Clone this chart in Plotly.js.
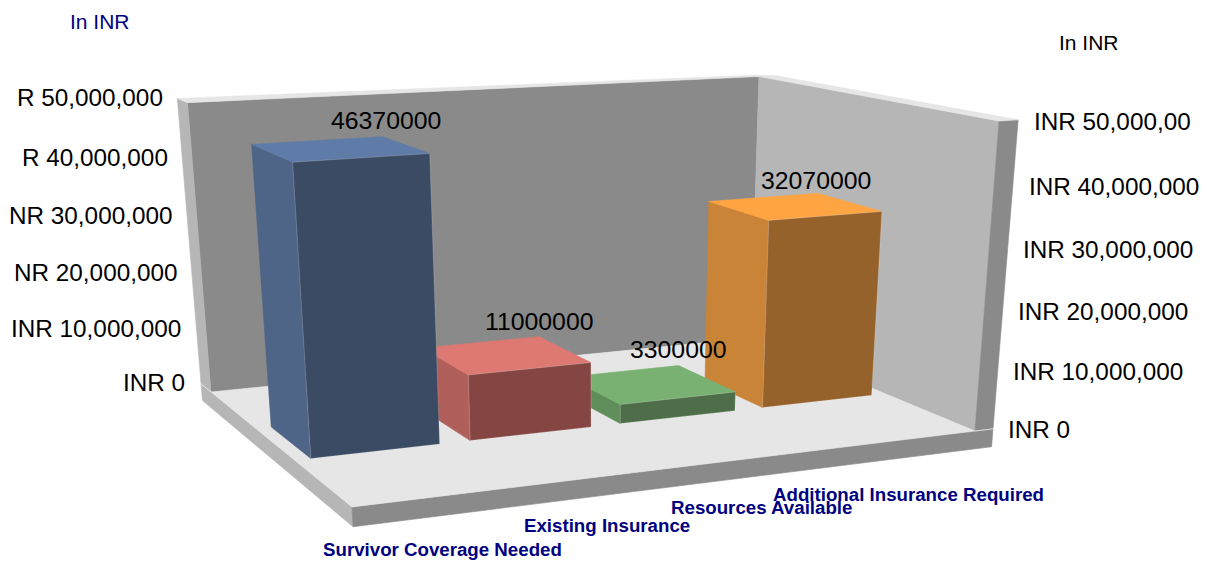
<!DOCTYPE html>
<html>
<head>
<meta charset="utf-8">
<script src="https://cdn.plot.ly/plotly-3.0.1.min.js"></script>
<style>html,body{margin:0;padding:0;background:#fff;overflow:hidden}#chart{width:1207px;height:563px}</style>
</head>
<body>
<div id="chart"></div>
<script>
// Chart content
const categories = ['Survivor Coverage Needed', 'Existing Insurance', 'Resources Available', 'Additional Insurance Required'];
const coverage = [46370000, 11000000, 3300000, 32070000];
const valueTicks = [0, 10000000, 20000000, 30000000, 40000000, 50000000];
const leftTickLabels = ['INR 0', 'INR 10,000,000', 'NR 20,000,000', 'NR 30,000,000', 'R 40,000,000', 'R 50,000,000'];
const rightTickLabels = ['INR 0', 'INR 10,000,000', 'INR 20,000,000', 'INR 30,000,000', 'INR 40,000,000', 'INR 50,000,00'];
const valueMax = 50000000;

// Bar shades: top, side and front faces
const topShades = ['#5f7ba8', '#de7872', '#79b172', '#ffa443'];
const sideShades = ['#4f6587', '#b05f5a', '#5f8e5a', '#c98438'];
const frontShades = ['#3b4b63', '#854643', '#4d6e48', '#96622c'];

// Label offsets in pixels
const categoryLabelDrop = [53, 49, 50, 55];
const valueLabelNudgeX = [3, 0, 0, -1.5];
const valueLabelNudgeY = [-16, -15, -16, -13];

// Perspective camera: world (x along the front, y into the depth, z up) to pixels
const camera = [
  [738.7, -98.2, -41, 352],
  [-24.8, -35.5, -355, 507],
  [0.1187, 0.2029, -0.068, 1]
];
function project(x, y, z) {
  const h = v => camera[v][0] * x + camera[v][1] * y + camera[v][2] * z + camera[v][3];
  return [h(0) / h(2), h(1) / h(2)];
}

const traces = [];
function face(points, color, edge) {
  const p = points.map(q => project(q[0], q[1], q[2]));
  traces.push({
    type: 'scatter', mode: 'lines', fill: 'toself', fillcolor: color,
    x: p.map(q => q[0]).concat(p[0][0]), y: p.map(q => q[1]).concat(p[0][1]),
    line: {color: edge || color, width: 0.6}, hoverinfo: 'skip', showlegend: false
  });
}

// Room: two walls, their rims and the floor slab
const xOut = 1.0325, yOut = 1.086, cornerTop = 0.988, slab = -0.062;
const wallDark = '#8a8a8a', wallLight = '#b6b6b6', rim = '#e6e6e6';
face([[0, 1, 0], [1, 1, 0], [1, 1, cornerTop], [0, 1, 1]], wallDark);
face([[1, 1, 0], [1, 0, 0], [1, 0, 1], [1, 1, cornerTop]], wallLight);
face([[0, 1, 0], [0, yOut, 0], [0, yOut, 1], [0, 1, 1]], wallLight);
face([[1, 0, 0], [xOut, 0, 0], [xOut, 0, 1], [1, 0, 1]], wallDark);
face([[0, 1, 1], [0, yOut, 1], [1, 1.03, cornerTop], [1, 1, cornerTop]], rim);
face([[1, 1, cornerTop], [1, 1.03, cornerTop], [xOut, 1, cornerTop], [xOut, 0, 1], [1, 0, 1]], rim);
face([[0, yOut, 0], [0, 0, 0], [0, 0, slab], [0, yOut, slab]], wallLight);
face([[0, 0, 0], [xOut, 0, 0], [xOut, 0, slab], [0, 0, slab]], wallDark);
face([[0, 0, 0], [xOut, 0, 0], [1, 0, 0], [1, 1, 0], [0, 1, 0], [0, yOut, 0]], rim);

// Bars, painted from the far right to the near left
const slot = 0.2495, yFront = 0.362, yBack = 0.64;
const barSpans = [[0.0245, 0.2265], [0.2757, 0.4757], [0.5252, 0.7252], [0.7747, 0.9747]];
for (let i = coverage.length - 1; i >= 0; i--) {
  const x0 = barSpans[i][0], x1 = barSpans[i][1], z = coverage[i] / valueMax;
  face([[x0, yFront, 0], [x0, yBack, 0], [x0, yBack, z], [x0, yFront, z]], sideShades[i]);
  face([[x0, yFront, z], [x0, yBack, z], [x1, yBack, z], [x1, yFront, z]], topShades[i]);
  face([[x0, yFront, 0], [x1, yFront, 0], [x1, yFront, z], [x0, yFront, z]], frontShades[i], 'rgba(255,255,255,0.3)');
}

// Text
const arial = 'Liberation Sans, Arial, sans-serif';
function label(point, text, size, color, anchor, dx, dy, weight) {
  return {
    x: point[0], y: point[1], xref: 'x', yref: 'y', text: text, showarrow: false,
    xanchor: anchor, yanchor: 'middle', xshift: dx, yshift: -dy,
    font: {family: arial, size: size, color: color, weight: weight || 400}
  };
}
const annotations = [];
valueTicks.forEach((v, i) => {
  const z = v / valueMax;
  annotations.push(label(project(0, yOut, z), leftTickLabels[i], 24.3, '#000', 'right', -14 + 2 * z, -1));
  annotations.push(label(project(xOut, 0, z), rightTickLabels[i], 24.3, '#000', 'left', 12.5 + 1.5 * z, 1 + z));
});
coverage.forEach((v, i) => {
  annotations.push(label(project(barSpans[i][1], yBack, v / valueMax), String(v), 24.8, '#000', 'center', valueLabelNudgeX[i], valueLabelNudgeY[i]));
  annotations.push(label(project((i + 0.5) * slot, 0, 0), categories[i], 18.7, '#000080', 'center', 5, categoryLabelDrop[i], 700));
});
annotations.push(label([100, 21], 'In INR', 21, '#000080', 'center', 0, 0));
annotations.push(label([1089, 42], 'In INR', 21, '#000', 'center', 0, 0));

Plotly.newPlot('chart', traces, {
  width: 1207, height: 563,
  margin: {l: 0, r: 0, t: 0, b: 0},
  paper_bgcolor: '#fff', plot_bgcolor: '#fff',
  xaxis: {range: [0, 1207], visible: false, fixedrange: true},
  yaxis: {range: [563, 0], visible: false, fixedrange: true},
  showlegend: false, annotations: annotations
}, {displayModeBar: false, staticPlot: true});
</script>
</body>
</html>
